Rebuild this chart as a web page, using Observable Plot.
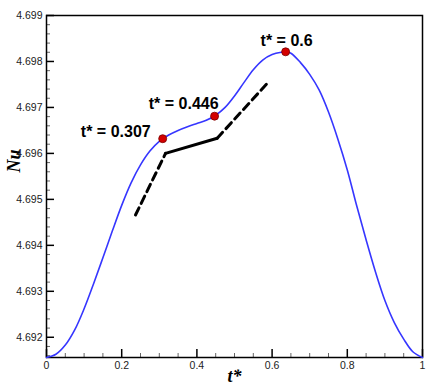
<!DOCTYPE html>
<html><head><meta charset="utf-8">
<script src="https://cdn.jsdelivr.net/npm/d3@7"></script>
<script src="https://cdn.jsdelivr.net/npm/@observablehq/plot@0.6"></script>
<style>body{margin:0;background:#fff}</style>
</head><body><div id="chart"></div>
<script>
// Nusselt curve
const tValues  = [0, 0.025, 0.05, 0.075, 0.1, 0.125, 0.15, 0.175, 0.2, 0.225, 0.25, 0.275, 0.3, 0.325, 0.35, 0.375, 0.4, 0.425, 0.45, 0.475, 0.5, 0.525, 0.55, 0.575, 0.6, 0.625, 0.6375, 0.65, 0.675, 0.7, 0.725, 0.75, 0.775, 0.8, 0.825, 0.85, 0.875, 0.9, 0.925, 0.95, 0.975, 1.0];
const nuValues = [4.69156, 4.69163, 4.69183, 4.69216, 4.69262, 4.69316, 4.69373, 4.69431, 4.69487, 4.69536, 4.69575, 4.69605, 4.69626, 4.69640, 4.69650, 4.69658, 4.69665, 4.69672, 4.69683, 4.69700, 4.69725, 4.69754, 4.69782, 4.69803, 4.69815, 4.69820, 4.69821, 4.69818, 4.69798, 4.69772, 4.69738, 4.69690, 4.69631, 4.69564, 4.69486, 4.69412, 4.69342, 4.69280, 4.69232, 4.69196, 4.69168, 4.69156];
// marked points
const pointT  = [0.309, 0.447, 0.636];
const pointNu = [4.69632, 4.69681, 4.69821];
const pointLabels = ["t* = 0.307", "t* = 0.446", "t* = 0.6"];
// black guide line (dashed / solid / dashed)
const guideT   = [0.2367, 0.3165, 0.454, 0.591];
const guideNu  = [4.69466, 4.69600, 4.69633, 4.69756];
const guideDash = ["8,5", null, "8,5"];
// ticks
const xMajor = [0, 0.2, 0.4, 0.6, 0.8, 1];
const xMinor = [0.05, 0.1, 0.15, 0.25, 0.3, 0.35, 0.45, 0.5, 0.55, 0.65, 0.7, 0.75, 0.85, 0.9, 0.95];
const yMajor = [4.692, 4.693, 4.694, 4.695, 4.696, 4.697, 4.698, 4.699];
const yMinor = [4.6916, 4.6918, 4.6922, 4.6924, 4.6926, 4.6928, 4.6932, 4.6934, 4.6936, 4.6938, 4.6942, 4.6944, 4.6946, 4.6948, 4.6952, 4.6954, 4.6956, 4.6958, 4.6962, 4.6964, 4.6966, 4.6968, 4.6972, 4.6974, 4.6976, 4.6978, 4.6982, 4.6984, 4.6986, 4.6988];
const xLabel = "t*";
const yLabel = "Nu";

const yMin = 4.69156, yMax = 4.699;
const curve = tValues.map((t, i) => ({t, nu: nuValues[i]}));
const points = pointT.map((t, i) => ({t, nu: pointNu[i], label: pointLabels[i]}));
const segments = guideDash.map((dash, i) => ({dash, pts: [{t: guideT[i], nu: guideNu[i]}, {t: guideT[i+1], nu: guideNu[i+1]}]}));

const W = 439, H = 390, mL = 46, mR = 17, mT = 15, mB = 33;
const xPerPx = 1 / (W - mL - mR);
const yPerPx = (yMax - yMin) / (H - mT - mB);

const labelOffsets = [{dx: -12, dy: -7, anchor: "end"}, {dx: 4, dy: -12, anchor: "end"}, {dx: 1, dy: -11, anchor: "middle"}];

const chart = Plot.plot({
  width: W, height: H, marginLeft: mL, marginRight: mR, marginTop: mT, marginBottom: mB,
  x: {domain: [0, 1]},
  y: {domain: [yMin, yMax]},
  style: {fontFamily: "'Liberation Sans', Arial, sans-serif", fontSize: "10.5px", color: "#222", background: "#fff"},
  marks: [
    Plot.axisX(xMajor, {tickSize: 0, tickPadding: 4, tickFormat: d => String(d), label: null}),
    Plot.axisY(yMajor, {tickSize: 0, tickPadding: 4, tickFormat: d => d.toFixed(3), label: null}),
    Plot.ruleX(xMajor, {x: d => d, y1: yMin, y2: yMin + 8 * yPerPx, stroke: "#000", strokeWidth: 1.5}),
    Plot.ruleX(xMinor, {x: d => d, y1: yMin, y2: yMin + 4 * yPerPx, stroke: "#666", strokeWidth: 1}),
    Plot.ruleY(yMajor, {y: d => d, x1: 0, x2: 8 * xPerPx, stroke: "#000", strokeWidth: 1.5}),
    Plot.ruleY(yMinor, {y: d => d, x1: 0, x2: 4 * xPerPx, stroke: "#666", strokeWidth: 1}),
    Plot.frame({stroke: "#000", strokeWidth: 1.5}),
    Plot.line(curve, {x: "t", y: "nu", stroke: "#3636ff", strokeWidth: 1.6, curve: "catmull-rom"}),
    ...segments.map(s => Plot.line(s.pts, {x: "t", y: "nu", stroke: "#000", strokeWidth: 3, strokeDasharray: s.dash})),
    Plot.dot(points, {x: "t", y: "nu", r: 4, fill: "#d40000", stroke: "#700", strokeWidth: 0.8}),
    ...points.map((p, i) => Plot.text([p], {x: "t", y: "nu", text: "label", dx: labelOffsets[i].dx, dy: labelOffsets[i].dy, textAnchor: labelOffsets[i].anchor, fontSize: 16, fontWeight: "bold", fill: "#000"})),
    Plot.text([yLabel], {text: d => d, frameAnchor: "left", rotate: -90, dx: -32, dy: -14, fontFamily: "'Liberation Serif', 'Times New Roman', serif", fontStyle: "italic", fontWeight: "bold", fontSize: 18, fill: "#000"}),
    Plot.text([xLabel], {text: d => d, frameAnchor: "bottom", dy: 24, fontFamily: "'Liberation Serif', 'Times New Roman', serif", fontStyle: "italic", fontWeight: "bold", fontSize: 18, fill: "#000"})
  ]
});
document.getElementById("chart").append(chart);
</script>
</body></html>
